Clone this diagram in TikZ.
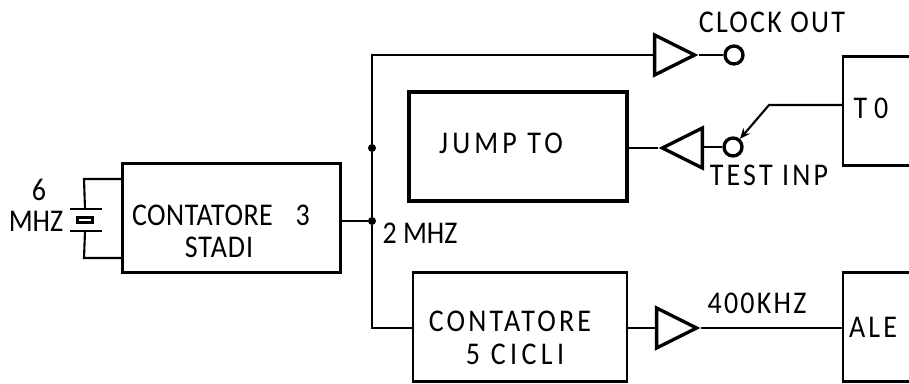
\documentclass[tikz,border=0pt]{standalone}
\usepackage{fontspec}
\setmainfont{Carlito}[FakeStretch=0.885]
\usetikzlibrary{shapes.geometric, arrows.meta}
\tikzset{
  block/.style={draw, line width=1.6pt, minimum width=#1, minimum height=2.18cm, inner sep=0pt},
  buf/.style={draw, line width=1.9pt, isosceles triangle, isosceles triangle stretches, minimum width=0.8cm, minimum height=0.8cm, inner sep=0pt},
  pin/.style={draw, line width=1.9pt, circle, minimum size=0.36cm, inner sep=0pt},
  wire/.style={line width=1.2pt},
  junct/.style={circle, fill, minimum size=0.16cm, inner sep=0pt},
  lbl/.style={inner sep=0pt, font=\fontsize{18}{20}\selectfont},
  wide/.style={font=\fontsize{18}{20}\selectfont\addfontfeature{LetterSpace=#1}}
}
\begin{document}
\begin{tikzpicture}[x=0.02cm, y=-0.02cm]
\useasboundingbox (0,0) rectangle (909,384);
\clip (0,0) rectangle (909,384);
% Blocks
\node[block=4.36cm] (cnt3) at (231.5,218) {};
\node[block=4.36cm, line width=2.1pt] (jump) at (518,146.5) {};
\node[block=4.28cm] (cnt5) at (520,327) {};
\node[block=2cm] (tzero) at (893,111) {};
\node[block=2cm] (ale) at (893,327) {};
% Buffers and pins
\node[buf, anchor=apex] (bufclk) at (699,55) {};
\node[buf, anchor=apex, shape border rotate=180] (buftest) at (658,148) {};
\node[buf, anchor=apex] (bufale) at (701,328) {};
\node[pin] (clkout) at (734,55) {};
\node[pin] (testin) at (733,147) {};
% Clock line
\node[junct] (bus) at (372,221) {};
\node[junct] (busup) at (372,148) {};
\coordinate (bustop) at (372,55);
\coordinate (buslow) at (372,328);
\draw[wire] (cnt3.east |- bus) -- (bus);
\draw[wire] (bufclk.west |- bustop) -- (bustop) -- (busup) -- (bus) -- (buslow) -- (cnt5.west |- buslow);
\draw[wire] (bufclk.apex) -- (clkout);
% Jump path
\draw[wire] (jump.east |- buftest.apex) -- (buftest.apex);
\draw[wire] (buftest.east |- testin) -- (testin);
\coordinate (tzin) at (843,105);
\coordinate (tzbend) at (769,105);
\draw[wire, -{Stealth[length=6pt,width=5pt]}] (tzin) -- (tzbend) -- (testin);
% ALE path
\draw[wire] (cnt5.east |- bufale.apex) -- (bufale.west |- bufale.apex);
\draw[wire] (bufale.apex) -- (ale.west |- bufale.apex);
% Crystal
\coordinate (xtop) at (84,179);
\coordinate (xbot) at (84,258);
\node[draw, line width=1.6pt, minimum width=0.3cm, minimum height=0.1cm, inner sep=0pt] (xtal) at (85,220) {};
\coordinate (platea) at (85,209);
\coordinate (plateb) at (85,231);
\draw[wire] (cnt3.west |- xtop) -- (xtop) -- (platea);
\draw[wire] (cnt3.west |- xbot) -- (xbot) -- (plateb);
\draw[wire] ([xshift=-8.5pt]platea) -- ([xshift=9.5pt]platea);
\draw[wire] ([xshift=-8.5pt]plateb) -- ([xshift=9.5pt]plateb);
% Labels
\node[lbl, wide=7] (lclk) at (772,22) {CLOCK OUT};
\node[lbl, wide=10] (ltest) at (769,175) {TEST INP};
\node[lbl, wide=7] (l400) at (757,303) {400KHZ};
\node[lbl, wide=10] (lale) at (873,327) {ALE};
\node[lbl, wide=22] (ltz) at (871,108) {T0};
\node[lbl, wide=13] (ljump) at (501,143) {JUMP TO};
\node[lbl, wide=1.5] (lcnta) at (221,215) {CONTATORE\hspace{13pt}3};
\node[lbl, wide=3] (lstadi) at (219,247) {STADI};
\node[lbl, wide=10] (lcntb) at (510,321) {CONTATORE};
\node[lbl, wide=14] (lcicli) at (515,354) {5 CICLI};
\node[lbl] (l2m) at (420,233) {2 MHZ};
\node[lbl] (lsix) at (39,190) {6};
\node[lbl] (lmhz) at (36,221) {MHZ};
\end{tikzpicture}
\end{document}
